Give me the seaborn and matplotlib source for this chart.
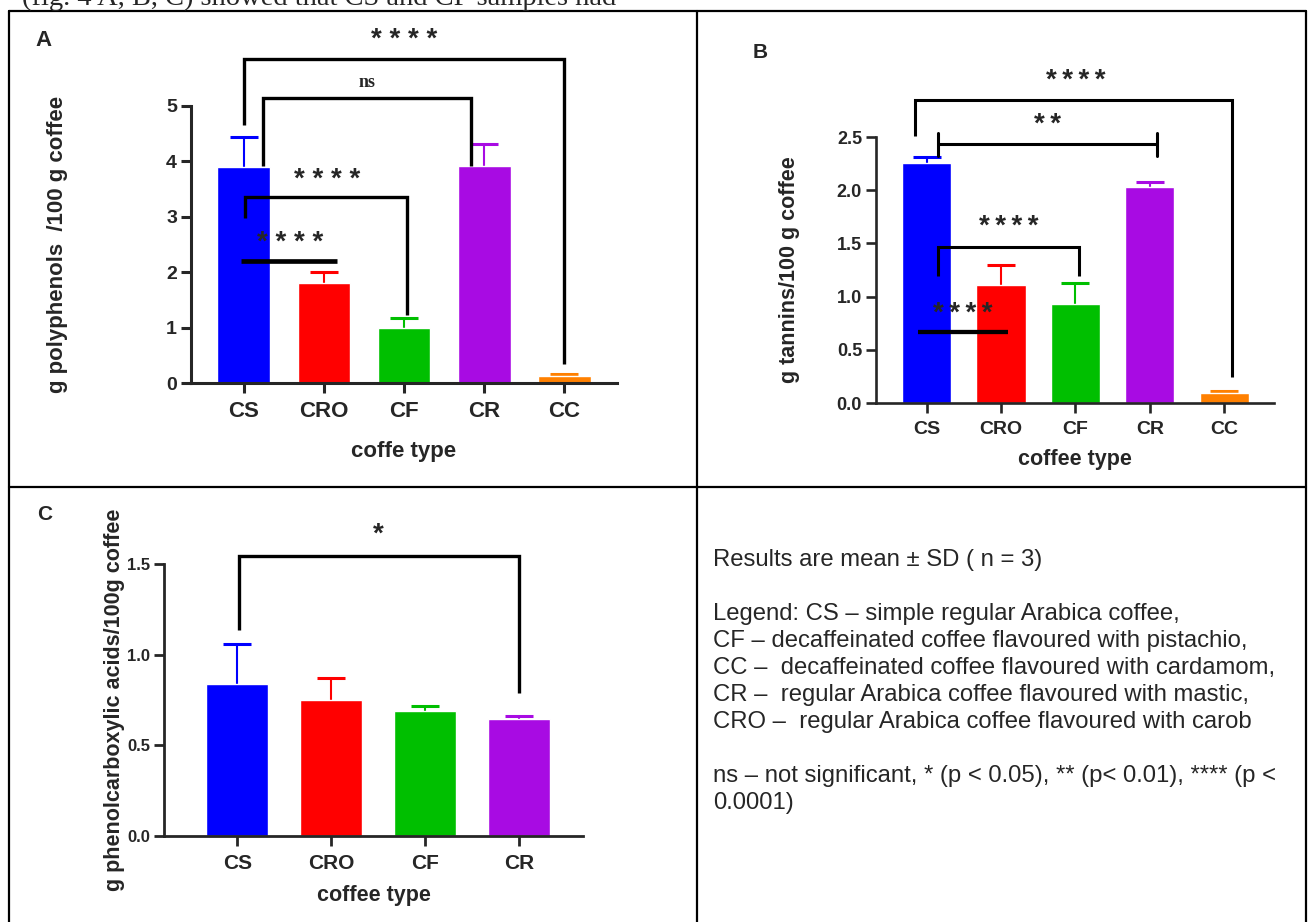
import numpy as np
import matplotlib
matplotlib.use("Agg")
import matplotlib.pyplot as plt
from matplotlib import font_manager
from matplotlib.lines import Line2D
import seaborn as sns

# ------------------------------------------------------------
# DATA
# ------------------------------------------------------------
types_5 = ["CS", "CRO", "CF", "CR", "CC"]
types_4 = ["CS", "CRO", "CF", "CR"]
bar_colors = ["#0000FF", "#FF0000", "#00BF00", "#A80BE3", "#FF8000"]

polyphenols_mean = [3.89, 1.81, 1.00, 3.91, 0.13]
polyphenols_sd = [0.55, 0.19, 0.17, 0.41, 0.03]

tannins_mean = [2.26, 1.11, 0.93, 2.03, 0.09]
tannins_sd = [0.055, 0.19, 0.20, 0.045, 0.02]

phenolcarb_mean = [0.84, 0.75, 0.69, 0.645]
phenolcarb_sd = [0.22, 0.12, 0.025, 0.015]

# significance annotations: (x1, x2, y, leg1_bottom, leg2_bottom, label, label_x, label_y, kind)
sig_a = [
    (0.0, 4.0, 5.84, 4.66, 0.35, "* * * *", 2.0, 6.2, "bracket"),
    (0.24, 2.84, 5.14, 3.92, 3.92, "ns", 1.54, 5.43, "bracket"),
    (0.01, 2.04, 3.35, 2.97, 1.22, "* * * *", 1.04, 3.66, "bracket"),
    (-0.04, 1.16, 2.2, None, None, "* * * *", 0.58, 2.53, "line"),
]
sig_b = [
    (-0.15, 4.11, 2.85, 2.506, 0.245, "*\u2009*\u2009*\u2009*", 2.0, 3.03, "bracket"),
    (0.16, 3.10, 2.43, 2.32, 2.54, "*\u2009*", 1.63, 2.61, "ibeam"),
    (0.15, 2.05, 1.464, 1.19, 1.19, "*\u2009*\u2009*\u2009*", 1.11, 1.65, "bracket"),
    (-0.11, 1.10, 0.67, None, None, "*\u2009*\u2009*\u2009*", 0.49, 0.84, "line"),
]
sig_c = [
    (0.02, 3.0, 1.546, 1.137, 0.788, "*", 1.5, 1.66, "bracket"),
]

legend_lines = [
    "Results are mean \u00b1 SD ( n = 3)",
    "",
    "Legend: CS \u2013 simple regular Arabica coffee,",
    "CF \u2013 decaffeinated coffee flavoured with pistachio,",
    "CC \u2013  decaffeinated coffee flavoured with cardamom,",
    "CR \u2013  regular Arabica coffee flavoured with mastic,",
    "CRO \u2013  regular Arabica coffee flavoured with carob",
    "",
    "ns \u2013 not significant, * (p < 0.05), ** (p< 0.01), **** (p <",
    "0.0001)",
]

# ------------------------------------------------------------
# STYLE
# ------------------------------------------------------------
sns.set_style("ticks")
plt.rcParams['font.family'] = ['Liberation Sans', 'DejaVu Sans']
names = {f.name for f in font_manager.fontManager.ttflist}
narrow = 'Liberation Sans Narrow' if 'Liberation Sans Narrow' in names else 'Liberation Sans'

W, H = 1309, 922
fig = plt.figure(figsize=(W / 100, H / 100), dpi=100)


def px_axes(left, right, top, bottom):
    return fig.add_axes([left / W, 1 - bottom / H, (right - left) / W, (bottom - top) / H])


def draw_bars(ax, cats, means, sds, ymax, step, xlim, tick_font, xsize, ysize, fmt, spine_w):
    sns.barplot(x=cats, y=means, hue=cats, palette=bar_colors[:len(cats)], legend=False,
                width=0.66, saturation=1, errorbar=None, ax=ax, zorder=2)
    for i in range(len(cats)):
        cont = ax.errorbar(i, means[i], yerr=[[0], [sds[i]]], fmt='none', ecolor=bar_colors[i],
                           elinewidth=1.5, capsize=10, capthick=2.2, zorder=1)
        # keep only the upper cap (GraphPad "above" error bars)
        for cl in cont.lines[1]:
            if np.allclose(cl.get_ydata(), means[i]):
                cl.remove()
    ax.set_xlim(*xlim)
    ax.set_ylim(0, ymax)
    ticks = np.arange(0, ymax + step / 2, step)
    ax.set_yticks(ticks)
    ax.set_yticklabels([fmt.format(v) for v in ticks])
    sns.despine(ax=ax)
    for s in ["left", "bottom"]:
        ax.spines[s].set_linewidth(spine_w)
    ax.tick_params(axis='both', length=7, width=spine_w, direction='out')
    ax.tick_params(axis='x', labelsize=xsize, pad=6)
    ax.tick_params(axis='y', labelsize=ysize, pad=3)
    for lab in ax.get_xticklabels() + ax.get_yticklabels():
        lab.set_fontweight('bold')
        lab.set_family(tick_font)
    ax.set_xlabel("")
    ax.set_ylabel("")


def draw_sig(ax, specs, lw, fsize):
    for x1, x2, y, b1, b2, lab, lx, ly, kind in specs:
        if kind == "bracket":
            ax.plot([x1, x1, x2, x2], [b1, y, y, b2], color='black', lw=lw, clip_on=False,
                    solid_joinstyle='miter', solid_capstyle='butt', zorder=5)
        elif kind == "ibeam":
            ax.plot([x1, x2], [y, y], color='black', lw=lw, clip_on=False, zorder=5)
            for xx in (x1, x2):
                ax.plot([xx, xx], [b1, b2], color='black', lw=lw, clip_on=False, zorder=5)
        else:
            ax.plot([x1, x2], [y, y], color='black', lw=lw * 1.4, clip_on=False,
                    solid_capstyle='butt', zorder=5)
        if lab == "ns":
            ax.text(lx, ly, lab, family='Liberation Serif', fontsize=13, fontweight='bold',
                    ha='center', va='center', clip_on=False)
        else:
            ax.text(lx, ly, lab, ha='center', va='center', fontsize=fsize, fontweight='bold',
                    clip_on=False, zorder=6)


# ------------------------------------------------------------
# PANEL A - polyphenols
# ------------------------------------------------------------
ax_a = px_axes(191, 617, 106, 383)
draw_bars(ax_a, types_5, polyphenols_mean, polyphenols_sd, 5, 1, (-0.66, 4.66), narrow, 16, 14, "{:.0f}", 2.2)
draw_sig(ax_a, sig_a, 2.4, 20)
ax_a.set_ylabel("g polyphenols  /100 g coffee", fontsize=16, fontweight='bold')
ax_a.yaxis.label.set_va('center')
ax_a.yaxis.set_label_coords((58 - 191) / 426, (383 - 244) / 277)
ax_a.set_xlabel("coffe type", fontsize=16, fontweight='bold', family=narrow)
ax_a.xaxis.label.set_va('center')
ax_a.xaxis.set_label_coords(0.5, (383 - 452) / 277)

# ------------------------------------------------------------
# PANEL B - tannins
# ------------------------------------------------------------
ax_b = px_axes(876, 1274, 137, 403)
draw_bars(ax_b, types_5, tannins_mean, tannins_sd, 2.5, 0.5, (-0.68, 4.67), 'Liberation Sans', 14, 13, "{:.1f}", 1.9)
draw_sig(ax_b, sig_b, 2.2, 20)
ax_b.set_ylabel("g tannins/100 g coffee", fontsize=15.5, fontweight='bold')
ax_b.yaxis.label.set_va('center')
ax_b.yaxis.set_label_coords((790 - 876) / 398, (403 - 270) / 266)
ax_b.set_xlabel("coffee type", fontsize=15.5, fontweight='bold')
ax_b.xaxis.label.set_va('center')
ax_b.xaxis.set_label_coords(0.5, (403 - 460) / 266)

# ------------------------------------------------------------
# PANEL C - phenolcarboxylic acids
# ------------------------------------------------------------
ax_c = px_axes(164, 583, 564, 836)
draw_bars(ax_c, types_4, phenolcarb_mean, phenolcarb_sd, 1.5, 0.5, (-0.78, 3.68), narrow, 15, 12, "{:.1f}", 2.0)
draw_sig(ax_c, sig_c, 2.4, 20)
ax_c.set_ylabel("g phenolcarboxylic acids/100g coffee", fontsize=15.5, fontweight='bold')
ax_c.yaxis.label.set_va('center')
ax_c.yaxis.set_label_coords((115 - 164) / 419, (836 - 700) / 272)
ax_c.set_xlabel("coffee type", fontsize=15.5, fontweight='bold')
ax_c.xaxis.label.set_va('center')
ax_c.xaxis.set_label_coords(0.5, (836 - 895) / 272)

# panel letters
for lab, x, y, fs in [("A", 43, 40, 16), ("B", 760, 52, 15), ("C", 45, 515, 15)]:
    fig.text(x / W, 1 - y / H, lab, fontsize=fs, fontweight='bold', ha='center', va='center')

# ------------------------------------------------------------
# PANEL D - text
# ------------------------------------------------------------
for i, line in enumerate(legend_lines):
    fig.text(713 / W, 1 - (560 + 27 * i) / H, line, fontsize=17.2, ha='left', va='center')

# cut-off body text above the table
fig.text(22 / W, 1 - 5 / H, "(fig. 4 A, B, C) showed that CS and CF samples had",
         family='Liberation Serif', fontsize=20.5, ha='left', va='baseline')

# table borders
for xs, ys in [([9, 1306], [11, 11]), ([9, 1306], [487, 487]),
               ([9, 9], [11, 922]), ([697, 697], [11, 922]), ([1306, 1306], [11, 922])]:
    fig.add_artist(Line2D([x / W for x in xs], [1 - y / H for y in ys], color='black', lw=1.6))

fig.savefig("out.png", dpi=100)
